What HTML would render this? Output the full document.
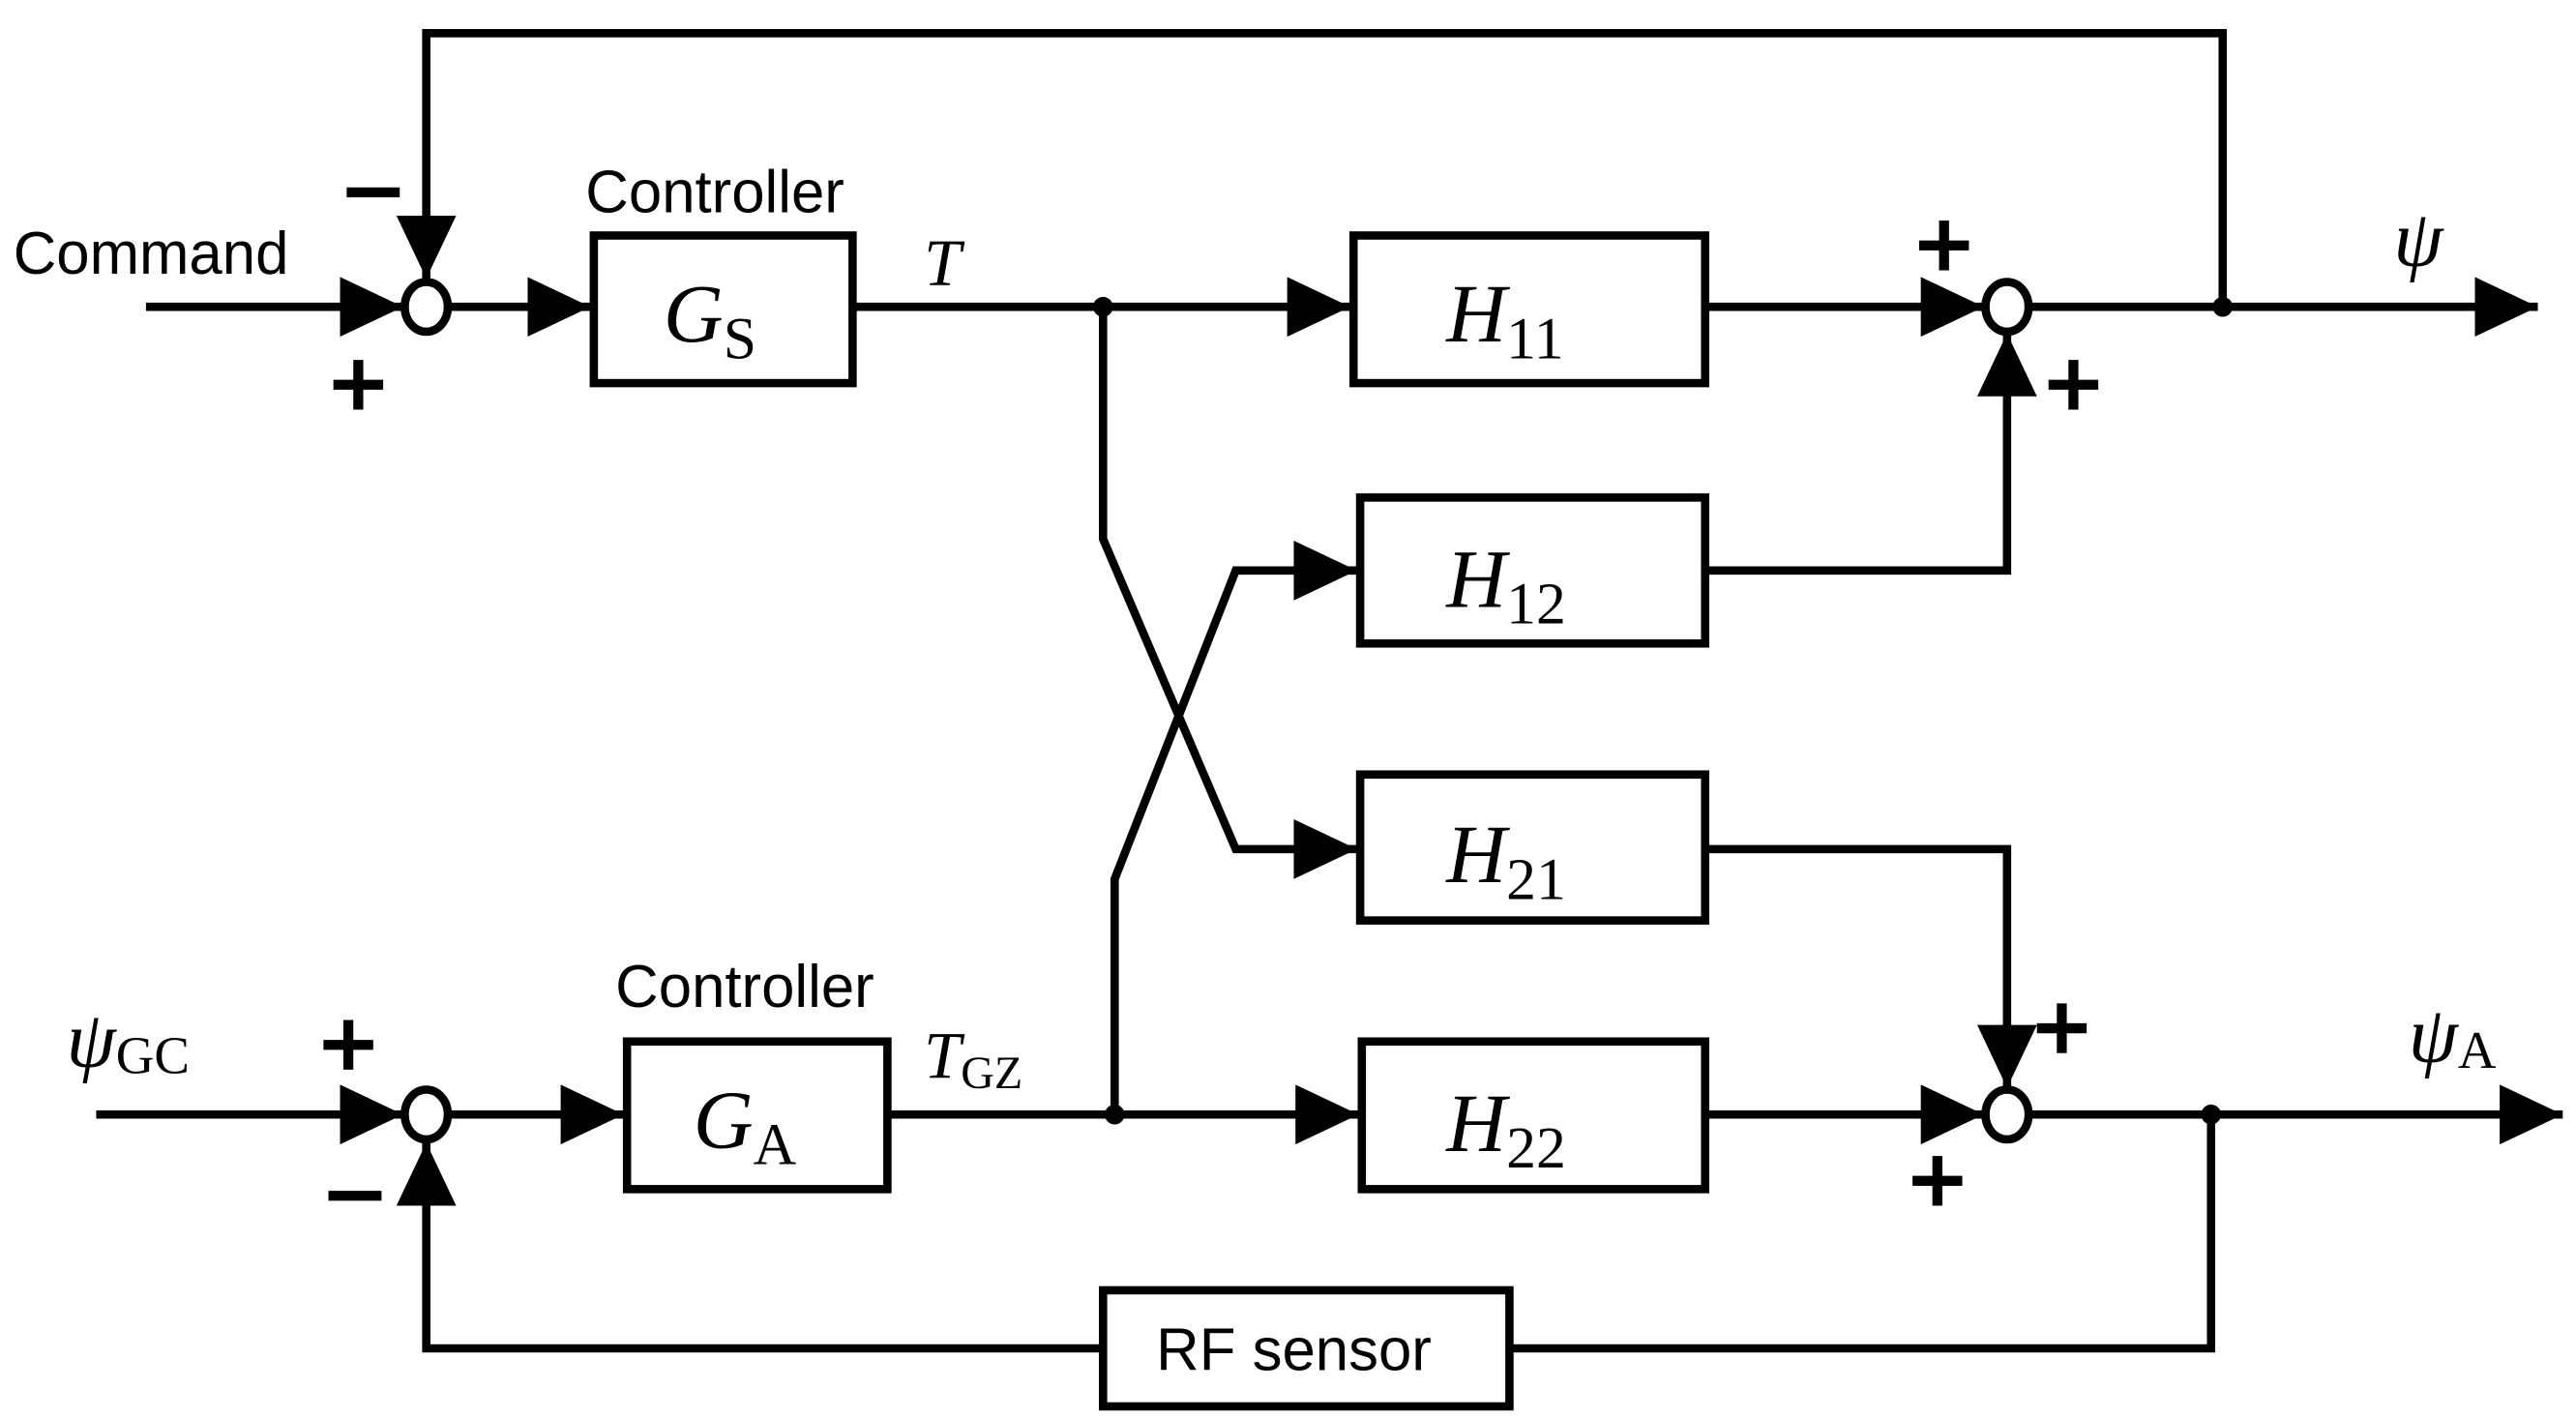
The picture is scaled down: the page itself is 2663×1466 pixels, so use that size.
<!DOCTYPE html>
<html><head><style>html,body{margin:0;padding:0;background:#fff;}svg{display:block}</style></head>
<body>
<svg width="2663" height="1466" viewBox="0 0 1553 855" preserveAspectRatio="none" xmlns="http://www.w3.org/2000/svg">
<defs>
<marker id="a" markerUnits="userSpaceOnUse" markerWidth="44" markerHeight="44" refX="38" refY="18" orient="auto">
<path d="M0,0 L38,18 L0,36 Z" fill="#000"/></marker>
</defs>
<g stroke="#000" stroke-width="5" fill="none">
<polyline points="88,185 243,185" marker-end="url(#a)"/>
<polyline points="1340,185 1340,20 257,20 257,168" marker-end="url(#a)"/>
<ellipse cx="257" cy="185" rx="13" ry="15"/>
<polyline points="270,185 356,185" marker-end="url(#a)"/>
<rect x="358" y="142" width="156" height="89"/>
<polyline points="514,185 814,185" marker-end="url(#a)"/>
<rect x="816" y="142" width="212" height="89"/>
<polyline points="1028,185 1196,185" marker-end="url(#a)"/>
<ellipse cx="1210" cy="185" rx="13" ry="15"/>
<polyline points="1223,185 1530,185" marker-end="url(#a)"/>
<rect x="820" y="300" width="208" height="88"/>
<polyline points="1028,344 1210,344 1210,201" marker-end="url(#a)"/>
<rect x="820" y="467" width="208" height="88"/>
<polyline points="1028,512 1210,512 1210,656" marker-end="url(#a)"/>
<polyline points="665,185 665,325 745,512 818,512" marker-end="url(#a)"/>
<polyline points="672,672 672,530 745,344 818,344" marker-end="url(#a)"/>
<polyline points="58,672 243,672" marker-end="url(#a)"/>
<ellipse cx="257" cy="672" rx="13" ry="15"/>
<polyline points="270,672 376,672" marker-end="url(#a)"/>
<rect x="378" y="628" width="157" height="89"/>
<polyline points="535,672 819,672" marker-end="url(#a)"/>
<rect x="821" y="628" width="207" height="89"/>
<polyline points="1028,672 1196,672" marker-end="url(#a)"/>
<ellipse cx="1210" cy="672" rx="13" ry="15"/>
<polyline points="1223,672 1545,672" marker-end="url(#a)"/>
<polyline points="1333,672 1333,813 910,813"/>
<rect x="665" y="778" width="245" height="70"/>
<polyline points="665,813 257,813 257,689" marker-end="url(#a)"/>
</g>
<g fill="#000">
<circle cx="665" cy="185" r="6"/><circle cx="1340" cy="185" r="6"/>
<circle cx="672" cy="672" r="6"/><circle cx="1333" cy="672" r="6"/>
</g>
<g stroke="#000" stroke-width="6" fill="none">
<path d="M201,232 h30 M216,217 v30"/>
<path d="M1157,148 h30 M1172,133 v30"/>
<path d="M1235,232 h30 M1250,217 v30"/>
<path d="M195,630 h30 M210,615 v30"/>
<path d="M1228,620 h30 M1243,605 v30"/>
<path d="M1153,712 h30 M1168,697 v30"/>
<path d="M209,116 h32"/>
<path d="M198,721 h32"/>
</g>
<g font-family="Liberation Sans, sans-serif" font-size="36" fill="#000">
<text x="8" y="165">Command</text>
<text x="353" y="128">Controller</text>
<text x="371" y="607">Controller</text>
<text x="697" y="826">RF sensor</text>
</g>
<g font-family="Liberation Serif, serif" font-style="italic" fill="#000">
<text x="400" y="206" font-size="50">G<tspan font-style="normal" font-size="36" dy="10">S</tspan></text>
<text x="418" y="692" font-size="50">G<tspan font-style="normal" font-size="36" dy="10">A</tspan></text>
<text x="872" y="206" font-size="50">H<tspan font-style="normal" font-size="36" dy="10">11</tspan></text>
<text x="872" y="366" font-size="50">H<tspan font-style="normal" font-size="36" dy="10">12</tspan></text>
<text x="872" y="532" font-size="50">H<tspan font-style="normal" font-size="36" dy="10">21</tspan></text>
<text x="872" y="694" font-size="50">H<tspan font-style="normal" font-size="36" dy="10">22</tspan></text>
<text x="557" y="172" font-size="40">T</text>
<text x="557" y="650" font-size="40">T<tspan font-style="normal" font-size="28" dy="6">GZ</tspan></text>
<text x="1443" y="160" font-size="48">ψ</text>
<text x="1452" y="640" font-size="48">ψ<tspan font-style="normal" font-size="32" dy="4">A</tspan></text>
<text x="40" y="643" font-size="48">ψ<tspan font-style="normal" font-size="32" dy="4">GC</tspan></text>
</g>
</svg>
</body></html>
